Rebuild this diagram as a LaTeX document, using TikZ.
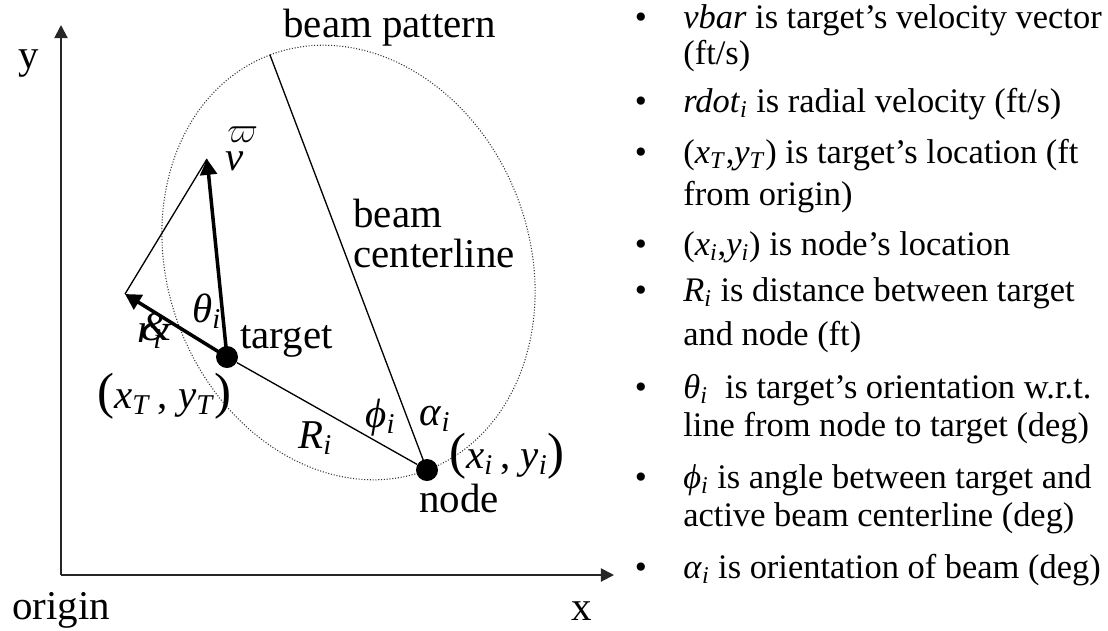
\documentclass[tikz,border=0pt]{standalone}
\usepackage{fontspec}
\setmainfont{Liberation Serif}
\usetikzlibrary{arrows.meta}

\newcommand{\lsub}[2]{\textit{#1}\textsubscript{\textit{#2}}}
\newcommand{\bigparen}[1]{{\fontsize{29}{29}\selectfont #1}}

\begin{document}
\begin{tikzpicture}[x=0.02cm,y=-0.02cm,
		lbl/.style={inner sep=0pt,anchor=base west,font=\fontsize{23.3}{28}\selectfont},
		item/.style={inner sep=0pt,anchor=base west,font=\fontsize{19.6}{22.8}\selectfont},
		bul/.style={inner sep=0pt,anchor=base,font=\fontsize{19.6}{22.8}\selectfont},
		dot/.style={circle,fill,inner sep=0pt,minimum size=0.44cm},
		vec/.style={line width=2pt,-{Triangle[length=9pt,width=9.5pt]}},
		thinln/.style={line width=0.75pt},
		axis/.style={line width=1.1pt,black!85,-{Triangle[length=7.5pt,width=7.5pt]}}]
		\useasboundingbox (0,0) rectangle (1108,630);

		% axes
		\coordinate (orig) at (61,575);
		\coordinate (ytip) at (61,25);
		\coordinate (xtip) at (614,575);
		\draw[axis] (orig) -- (ytip);
		\draw[axis] (orig) -- (xtip);
		\node[lbl] (ylbl) at (18,68) {y};
		\node[lbl] (origlbl) at (12,619) {origin};
		\node[lbl] (xlbl) at (571,620) {x};

		% beam pattern
		\draw[line width=0.6pt,densely dotted,black!80] (348.5,262.5) ellipse [x radius=4.44cm,y radius=3.62cm,rotate=110.7];
		\node[dot] (target) at (227,357) {};
		\node[dot] (beamnode) at (427,470) {};
		\coordinate (beamtop) at (270,55);
		\coordinate (vtip) at (207,159);
		\coordinate (rtip) at (125,294);
		\draw[thinln] (beamnode.center) -- (beamtop);
		\draw[thinln] (target) -- (beamnode);
		\draw[thinln] (rtip) -- (vtip);
		\draw[vec] (target.center) -- (vtip);
		\draw[vec] (target.center) -- (rtip);

		% labels
		\node[lbl] (patlbl) at (283,37) {beam pattern};
		\node[lbl] (beamlbl) at (353,227) {beam};
		\node[lbl] (clinelbl) at (353,267) {centerline};
		\node[lbl] (vlbl) at (225,170) {\textit{v}};
		\node[lbl,font=\fontsize{22}{22}\selectfont] (varpilbl) at (227,142) {$\varpi$};
		\node[lbl] (rlbl) at (137,342) {\lsub{r}{i}};
		\node[lbl] (amplbl) at (140,340) {\textit{\&}};
		\node[lbl] (thlbl) at (192,322) {\lsub{θ}{i}};
		\node[lbl] (targetlbl) at (240,348) {target};
		\node[lbl] (xtlbl) at (97,408) {\bigparen{(}\lsub{x}{T}\,, \lsub{y}{T}\bigparen{)}};
		\node[lbl] (rilbl) at (298,448) {\lsub{R}{i}};
		\node[lbl] (philbl) at (365,427) {\lsub{ϕ}{i}};
		\node[lbl] (alphalbl) at (419,425) {\lsub{α}{i}};
		\node[lbl] (xilbl) at (449,468) {\bigparen{(}\lsub{x}{i}\,, \lsub{y}{i}\bigparen{)}};
		\node[lbl] (nodelbl) at (419,512) {node};

		% legend
		\foreach \yy in {28,112,163,255,301,398,488,578}
			\node[bul] (bul\yy) at (641,\yy) {•};
		\node[item] (itvbar) at (683,28) {\textit{vbar} is target’s velocity vector};
		\node[item] (itvbarb) at (683,64) {(ft/s)};
		\node[item] (itrdot) at (683,112) {\lsub{rdot}{i} is radial velocity (ft/s)};
		\node[item] (itxt) at (683,163) {(\lsub{x}{T},\lsub{y}{T}) is target’s location (ft};
		\node[item] (itxtb) at (683,205) {from origin)};
		\node[item] (itxi) at (683,255) {(\lsub{x}{i},\lsub{y}{i}) is node’s location};
		\node[item] (itri) at (683,301) {\lsub{R}{i} is distance between target};
		\node[item] (itrib) at (683,345) {and node (ft)};
		\node[item] (itth) at (683,398) {\lsub{θ}{i}\ \ is target’s orientation w.r.t.};
		\node[item] (itthb) at (683,436) {line from node to target (deg)};
		\node[item] (itphi) at (683,488) {\lsub{ϕ}{i} is angle between target and};
		\node[item] (itphib) at (683,526) {active beam centerline (deg)};
		\node[item] (italpha) at (683,578) {\lsub{α}{i} is orientation of beam (deg)};
	\end{tikzpicture}
\end{document}
